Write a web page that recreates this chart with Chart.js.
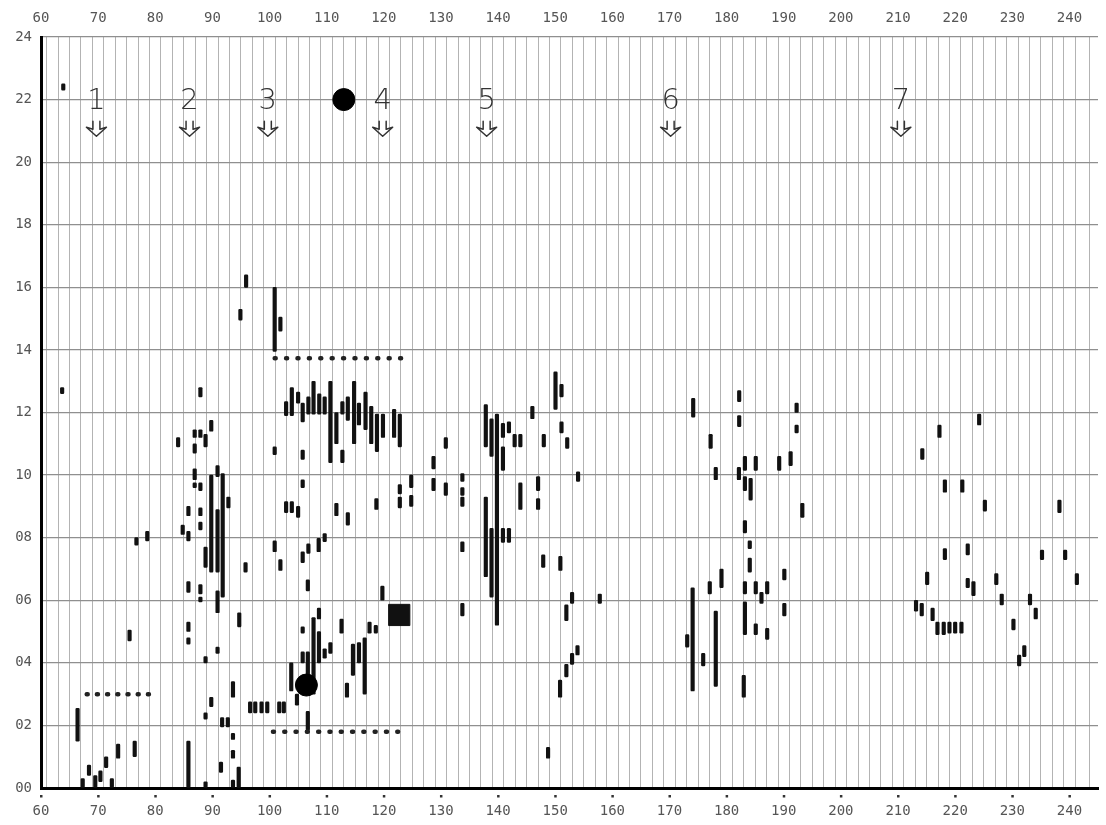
<!DOCTYPE html>
<html><head><meta charset="utf-8">
<script src="https://cdn.jsdelivr.net/npm/chart.js@4/dist/chart.umd.min.js"></script>
<style>html,body{margin:0;padding:0;background:#fff}</style>
</head><body>
<canvas id="c" width="1106" height="825"></canvas>
<script>
// ---- data: vertical segments [x, low, high] ----
const group1 = [
  [63.9,22.3,22.5],[63.7,12.6,12.8],[66.4,1.5,2.55],[67.3,0,0.3],[68.4,0.4,0.73],
  [69.5,0,0.4],[70.4,0.2,0.55],[71.4,0.65,1.0],[72.4,0,0.3],[73.5,0.95,1.4],
  [75.5,4.7,5.05],[76.4,1.0,1.5],[76.7,7.76,8.0],[78.6,7.9,8.2]
];
const group2 = [
  [84,10.9,11.2],[84.8,8.1,8.4],[85.8,8.7,9.0],[85.8,7.9,8.2],[85.8,6.25,6.6],
  [85.8,5.0,5.3],[85.8,4.6,4.8],[85.8,0,1.5],[86.9,11.2,11.45],[86.9,10.7,11.0],
  [86.9,9.85,10.2],[86.9,9.6,9.75],[87.9,12.5,12.8],[87.9,11.2,11.45],[87.9,9.5,9.75],
  [87.9,8.7,8.95],[87.9,8.25,8.5],[87.9,6.2,6.5],[87.9,5.95,6.1],[88.8,10.9,11.3],
  [88.8,7.05,7.7],[88.8,4.0,4.2],[88.8,2.2,2.4],[88.8,0,0.2],[89.8,11.4,11.75],
  [89.8,6.9,10.0],[89.8,2.6,2.9],[90.9,9.95,10.3],[90.9,6.9,8.9],[90.9,5.6,6.3],
  [90.9,4.3,4.5],[91.8,6.1,10.05],[91.7,1.95,2.25],[91.5,0.5,0.83],[92.8,8.95,9.3],
  [92.7,1.95,2.25],[93.6,2.9,3.4],[93.6,1.55,1.75],[93.6,0.95,1.2],[93.6,0,0.25],
  [94.7,5.15,5.6],[94.6,0,0.67],[95.8,6.9,7.2]
];
const group3 = [
  [94.9,14.95,15.3],[95.9,16.0,16.4],[96.6,2.4,2.75],[97.5,2.4,2.75],[98.6,2.4,2.75],
  [99.6,2.4,2.75],[100.9,13.95,16.0],[100.9,10.65,10.9],[100.9,7.55,7.9],[101.9,14.6,15.05],
  [101.9,6.95,7.3],[101.7,2.4,2.75],[102.5,2.4,2.75],[102.9,11.9,12.35],[102.9,8.8,9.15],
  [103.8,3.1,4.0],[103.9,11.9,12.8],[103.9,8.8,9.15],[104.8,2.65,3.0],[105.0,12.3,12.65],
  [105.0,8.65,9.0],[105.8,11.7,12.3],[105.8,10.5,10.8],[105.8,9.6,9.85],[105.8,7.2,7.55],
  [105.8,4.95,5.15],[105.8,4.0,4.35],[106.8,11.95,12.5],[106.8,7.5,7.8],[106.7,6.3,6.65],
  [106.7,3.1,4.35],[106.7,1.85,2.45],[107.7,11.95,13.0],[107.7,3.0,5.45],[108.7,11.95,12.6],
  [108.6,7.55,7.98],[108.65,5.4,5.75],[108.65,4.0,5.0],[109.65,11.95,12.5],[109.65,7.87,8.13],
  [109.65,4.15,4.45],[110.65,10.4,13.0],[110.65,4.3,4.65]
];
const group4 = [
  [111.7,11.0,12.0],[111.7,8.7,9.1],[112.75,11.95,12.35],[112.75,10.4,10.8],[112.6,4.95,5.4],
  [113.7,11.75,12.5],[113.7,8.4,8.8],[113.55,2.9,3.35],[114.8,11.0,13.0],[114.6,3.6,4.6],
  [115.65,11.6,12.3],[115.65,4.0,4.65],[116.8,11.45,12.65],[116.65,3.0,4.8],[117.8,11.0,12.2],
  [117.5,4.95,5.3],[118.8,10.75,11.95],[118.7,8.9,9.25],[118.6,4.95,5.2],[119.85,11.2,11.95],
  [119.75,6.0,6.45],[121.8,11.2,12.1],[122.8,10.9,11.95],[122.8,9.4,9.7],[122.8,8.95,9.3],
  [124.8,9.6,10.0],[124.8,9.0,9.35]
];
const group5 = [
  [128.7,10.2,10.6],[128.7,9.5,9.9],[130.85,10.85,11.2],[130.85,9.35,9.75],[133.75,9.8,10.05],
  [133.75,9.35,9.6],[133.75,9.0,9.3],[133.75,7.55,7.87],[133.75,5.5,5.9],[137.85,10.9,12.25],
  [137.85,6.75,9.3],[138.85,10.6,11.8],[138.85,6.1,8.3],[139.8,5.2,11.95],[140.85,11.2,11.65],
  [140.85,10.15,10.9],[140.85,7.85,8.3],[141.9,11.35,11.7],[141.9,7.85,8.3],[142.9,10.9,11.3],
  [143.9,10.9,11.3],[143.9,8.9,9.75],[146.0,11.8,12.2],[147.0,9.5,9.95],[147.0,8.9,9.25],
  [148.0,10.9,11.3],[147.9,7.05,7.45],[148.75,0.95,1.3],[150.05,12.1,13.3],[150.9,6.95,7.4],
  [150.85,2.9,3.45],[151.1,12.5,12.9],[151.1,11.35,11.7],[151.95,5.35,5.85],[151.95,3.55,3.95],
  [152.1,10.85,11.2],[152.95,5.9,6.25],[152.95,3.95,4.3],[153.9,4.25,4.55],[154.0,9.8,10.1],
  [157.8,5.9,6.2]
];
const group6 = [
  [173.1,4.5,4.9],[174.05,3.1,6.4],[174.15,11.85,12.45],[175.9,3.9,4.3],[177.05,6.2,6.6],
  [177.2,10.85,11.3],[178.1,9.85,10.25],[178.1,3.25,5.65],[179.1,6.4,7.0],[182.2,12.35,12.7],
  [182.2,11.55,11.9],[182.15,9.85,10.25],[183.2,10.15,10.6],[183.2,9.5,9.95],[183.2,8.15,8.55],
  [183.2,6.2,6.6],[183.2,4.9,5.95],[183.0,2.9,3.6],[184.2,9.2,9.9],[184.05,7.65,7.9],
  [184.05,6.9,7.35],[185.1,10.15,10.6],[185.1,6.2,6.6],[185.1,4.9,5.25],[186.1,5.9,6.25],
  [187.1,6.2,6.6],[187.1,4.75,5.1],[189.2,10.15,10.6],[190.1,6.65,7.0],[190.1,5.5,5.9],
  [191.2,10.3,10.75],[192.25,12.0,12.3],[192.25,11.35,11.6],[193.25,8.65,9.1]
];
const group7 = [
  [213.15,5.65,6.0],[214.15,5.5,5.9],[214.25,10.5,10.85],[215.1,6.5,6.9],[216.05,5.35,5.75],
  [216.9,4.9,5.3],[217.25,11.2,11.6],[218.0,4.9,5.3],[218.2,9.45,9.85],[218.2,7.3,7.65],
  [219.0,4.95,5.3],[220.0,4.95,5.3],[221.1,4.95,5.3],[221.25,9.45,9.85],[222.2,7.45,7.8],
  [222.2,6.4,6.7],[223.2,6.15,6.6],[224.2,11.6,11.95],[225.2,8.85,9.2],[227.2,6.5,6.85],
  [228.15,5.85,6.2],[230.2,5.05,5.4],[231.2,3.9,4.25],[232.1,4.2,4.55],[233.1,5.85,6.2],
  [234.1,5.4,5.75],[235.2,7.3,7.6],[238.25,8.8,9.2],[239.25,7.3,7.6],[241.3,6.5,6.85]
];
// dotted reference lines: [xStart, xEnd, y]
const dottedLow1 = [68, 79, 3.0];
const dottedHigh = [100.9, 123.1, 13.73];
const dottedLow2 = [100.6, 122.5, 1.8];
// big markers
const roundMarks = [[113.0, 22.0], [106.45, 3.29]];
const squareMarks = [[122.7, 5.53]];
// numbered arrows
const markerLabels = ['1','2','3','4','5','6','7'];
const markerX = [69.7, 86.0, 99.7, 119.8, 138.0, 170.2, 210.5];
const markerLabelY = 21.95;
const markerArrowY = 21.05;
// axes
const xTickLabels = [60,70,80,90,100,110,120,130,140,150,160,170,180,190,200,210,220,230,240];
const xMin = 60, xMax = 245, yMin = 0, yMax = 24;

const bars = [].concat(group1, group2, group3, group4, group5, group6, group7)
  .map(([x, lo, hi]) => ({x: x, y: [lo, hi]}));
const seg = d => [{x: d[0], y: d[2]}, {x: d[1], y: d[2]}];

const MONO = '"DejaVu Sans Mono", "Liberation Mono", monospace';
const xLabel = v => xTickLabels.includes(v) ? String(v) : '';
const fitX = s => { s.height = 37; s.paddingLeft = 0; s.paddingRight = 0; };

const overlay = {
  id: 'overlay',
  afterDatasetsDraw(chart) {
    const {ctx, scales: {x, y}} = chart;
    ctx.save();
    // numbers
    ctx.fillStyle = '#333';
    ctx.font = '200 29px "DejaVu Sans", sans-serif';
    ctx.textAlign = 'center';
    ctx.textBaseline = 'middle';
    markerLabels.forEach((t, i) => {
      ctx.fillText(t, x.getPixelForValue(markerX[i]), y.getPixelForValue(markerLabelY));
    });
    // hollow arrows
    ctx.strokeStyle = '#333';
    ctx.lineWidth = 1.5;
    ctx.lineJoin = 'round';
    ctx.lineCap = 'round';
    markerX.forEach(v => {
      const cx = x.getPixelForValue(v), cy = y.getPixelForValue(markerArrowY);
      ctx.beginPath();
      ctx.moveTo(cx - 3.5, cy - 8);
      ctx.lineTo(cx - 3.5, cy);
      ctx.lineTo(cx - 10, cy - 2);
      ctx.lineTo(cx, cy + 7);
      ctx.lineTo(cx + 10, cy - 2);
      ctx.lineTo(cx + 3.5, cy);
      ctx.lineTo(cx + 3.5, cy - 8);
      ctx.stroke();
    });
    // small tick dots above bottom labels
    ctx.fillStyle = '#333';
    xTickLabels.forEach(v => {
      const px = x.getPixelForValue(v);
      ctx.fillRect(px - 1, y.bottom + 7, 2.5, 2.5);
    });
    ctx.restore();
  }
};

new Chart(document.getElementById('c'), {
  type: 'bar',
  data: {
    datasets: [
      {type: 'bar', data: bars, backgroundColor: '#111', barThickness: 3.5, grouped: false,
       borderRadius: 1.2, borderSkipped: false, order: 3},
      {type: 'line', data: seg(dottedLow1), borderColor: '#222', borderWidth: 4.5,
       borderDash: [1, 9.2], borderCapStyle: 'round', pointRadius: 0, fill: false, order: 2},
      {type: 'line', data: seg(dottedHigh), borderColor: '#222', borderWidth: 4.5,
       borderDash: [1, 10.4], borderCapStyle: 'round', pointRadius: 0, fill: false, order: 2},
      {type: 'line', data: seg(dottedLow2), borderColor: '#222', borderWidth: 4.5,
       borderDash: [1, 10.3], borderCapStyle: 'round', pointRadius: 0, fill: false, order: 2},
      {type: 'scatter', data: roundMarks.map(([a, b]) => ({x: a, y: b})), pointRadius: 11,
       pointHoverRadius: 11, backgroundColor: '#000', borderColor: '#000', order: 1},
      {type: 'scatter', data: squareMarks.map(([a, b]) => ({x: a, y: b})), pointStyle: 'rect',
       pointRadius: 15, pointHoverRadius: 15, backgroundColor: '#111', borderColor: '#111', order: 1}
    ]
  },
  options: {
    responsive: false,
    animation: false,
    events: [],
    layout: {autoPadding: false, padding: {left: 0, right: 8, top: 0, bottom: 0}},
    plugins: {legend: {display: false}, tooltip: {enabled: false}},
    scales: {
      x: {
        type: 'linear', position: 'bottom', min: xMin, max: xMax, offset: false,
        grid: {color: '#b3b3b3', lineWidth: 1, drawTicks: false},
        border: {display: true, color: '#000', width: 3},
        ticks: {stepSize: 2, autoSkip: false, maxRotation: 0, callback: xLabel,
                font: {family: MONO, size: 14, lineHeight: 3.39}, color: '#555', padding: 0},
        afterFit: fitX
      },
      x2: {
        type: 'linear', position: 'top', min: xMin, max: xMax, offset: false,
        grid: {display: false, drawTicks: false},
        border: {display: false},
        ticks: {stepSize: 2, autoSkip: false, maxRotation: 0, callback: xLabel,
                font: {family: MONO, size: 14, lineHeight: 2.67}, color: '#555', padding: 0},
        afterFit: fitX
      },
      y: {
        type: 'linear', min: yMin, max: yMax,
        grid: {color: '#8f8f8f', lineWidth: 1.2, drawTicks: false},
        border: {display: true, color: '#000', width: 3},
        ticks: {stepSize: 2, callback: v => String(v).padStart(2, '0'),
                font: {family: MONO, size: 14}, color: '#555', padding: 9},
        afterFit: s => { s.width = 41; s.paddingTop = 0; s.paddingBottom = 0; }
      }
    }
  },
  plugins: [overlay]
});
</script>
</body></html>
